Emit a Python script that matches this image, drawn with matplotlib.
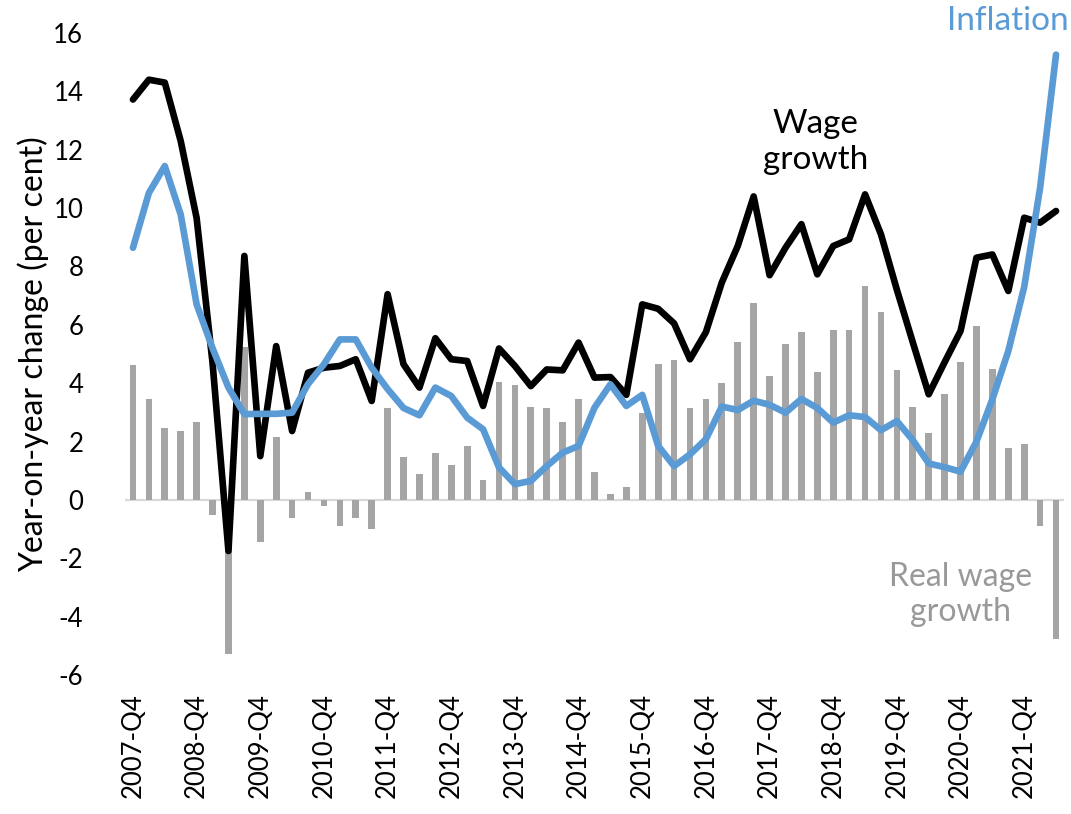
import numpy as np
import matplotlib
matplotlib.use("Agg")
import matplotlib.pyplot as plt

plt.rcParams['font.family'] = ['Lato', 'DejaVu Sans']
plt.rcParams['axes.unicode_minus'] = False

# quarters 2007-Q4 ... 2022-Q2
quarters = ["2007-Q4"] + [f"{y}-Q{q}" for y in range(2008, 2023) for q in range(1, 5)]
quarters = quarters[:59]

wage_growth = [13.72, 14.4, 14.3, 12.3, 9.66, 4.7, -1.75, 8.36, 1.5, 5.27,
               2.36, 4.36, 4.53, 4.59, 4.82, 3.39, 7.05, 4.65, 3.85, 5.54,
               4.82, 4.76, 3.22, 5.19, 4.59, 3.9, 4.47, 4.44, 5.39, 4.19,
               4.21, 3.6, 6.7, 6.55, 6.05, 4.82, 5.75, 7.45, 8.7, 10.4,
               7.7, 8.64, 9.45, 7.73, 8.7, 8.93, 10.47, 9.1, 7.2, 5.4,
               3.62, 4.72, 5.79, 8.3, 8.41, 7.16, 9.67, 9.5, 9.9]

inflation = [8.64, 10.52, 11.44, 9.78, 6.7, 5.2, 3.85, 2.94, 2.95, 2.95,
             2.99, 3.97, 4.65, 5.5, 5.5, 4.53, 3.8, 3.15, 2.9, 3.85,
             3.56, 2.82, 2.42, 1.11, 0.54, 0.65, 1.16, 1.62, 1.85, 3.16,
             3.96, 3.22, 3.6, 1.85, 1.16, 1.56, 2.08, 3.2, 3.08, 3.4,
             3.26, 2.99, 3.46, 3.15, 2.65, 2.9, 2.84, 2.39, 2.7, 2.05,
             1.25, 1.12, 0.97, 2.0, 3.45, 5.1, 7.3, 10.7, 15.26]

real_wage = [4.62, 3.46, 2.48, 2.36, 2.66, -0.51, -5.29, 5.25, -1.43, 2.17,
             -0.63, 0.26, -0.2, -0.88, -0.63, -0.99, 3.14, 1.48, 0.88, 1.61,
             1.2, 1.86, 0.68, 4.05, 3.94, 3.2, 3.14, 2.66, 3.45, 0.95,
             0.19, 0.44, 2.97, 4.67, 4.79, 3.14, 3.45, 4.0, 5.4, 6.74,
             4.24, 5.34, 5.77, 4.37, 5.82, 5.82, 7.34, 6.45, 4.44, 3.2,
             2.29, 3.62, 4.74, 5.96, 4.48, 1.79, 1.9, -0.88, -4.75]

x = np.arange(len(quarters))

fig = plt.figure(figsize=(10.71, 8.14), dpi=100)
ax = fig.add_axes([125/1071, 1 - 675/814, (1064 - 125)/1071, (675 - 33)/814])

ax.bar(x, real_wage, width=0.42, color='#a5a5a5', zorder=1)
ax.axhline(0, color='#d9d9d9', lw=1.6, zorder=0.5)
ax.plot(x, wage_growth, color='black', lw=4.8, solid_joinstyle='round',
        solid_capstyle='round', zorder=3)
ax.plot(x, inflation, color='#5b9bd5', lw=4.8, solid_joinstyle='round',
        solid_capstyle='round', zorder=4)

ax.set_xlim(-0.5, len(quarters) - 0.5)
ax.set_ylim(-6, 16)
ax.set_yticks(np.arange(-6, 17, 2))
ax.set_xticks(x[::4])
ax.set_xticklabels(quarters[::4], rotation=90)
ax.tick_params(axis='both', length=0, labelsize=18.5, colors='black')
ax.tick_params(axis='y', pad=30)
ax.tick_params(axis='x', pad=13)
for s in ax.spines.values():
    s.set_visible(False)

ax.set_ylabel("Year-on-year change (per cent)", fontsize=23)
ax.yaxis.label.set_va('center')
ax.yaxis.set_label_coords(-0.098, 0.5)

ax.text(42.9, 12.25, "Wage\ngrowth", ha='center', va='center', fontsize=24,
        color='black', linespacing=1.25)
ax.text(58.8, 16.4, "Inflation", ha='right', va='center', fontsize=24,
        color='#5b9bd5', clip_on=False)
ax.text(52.0, -3.25, "Real wage\ngrowth", ha='center', va='center', fontsize=23,
        color='#999999', linespacing=1.2)

fig.savefig("out.png", dpi=100)
